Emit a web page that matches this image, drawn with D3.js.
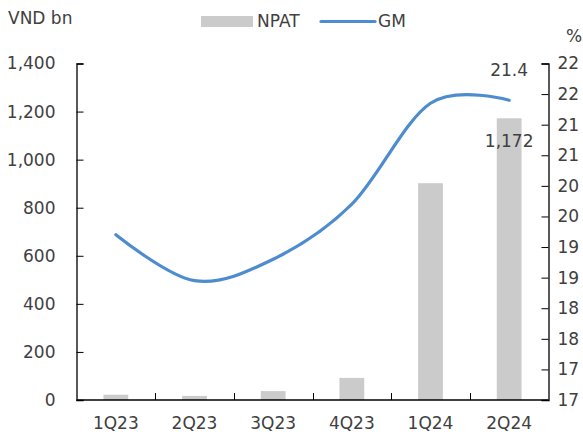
<!DOCTYPE html>
<html>
<head>
<meta charset="utf-8">
<script src="https://cdn.jsdelivr.net/npm/d3@7"></script>
<style>
  html, body { margin: 0; padding: 0; background: #fff; }
  svg { display: block; }
  text { font-family: "DejaVu Sans", Verdana, sans-serif; fill: #404040; }
</style>
</head>
<body>
<svg id="chart" width="583" height="435"></svg>
<script>
// Quarterly net profit (VND bn) and gross margin (%)
const quarters = ["1Q23", "2Q23", "3Q23", "4Q23", "1Q24", "2Q24"];
const npat = [22, 17, 37, 92, 902, 1172];
const gm = [19.2, 18.45, 18.8, 19.7, 21.35, 21.4];
const leftTicks = [0, 200, 400, 600, 800, 1000, 1200, 1400];
const rightTicks = [16.5, 17, 17.5, 18, 18.5, 19, 19.5, 20, 20.5, 21, 21.5, 22];

const svg = d3.select("#chart");
const plotLeft = 76.5, plotRight = 548.5, plotTop = 63.5, plotBottom = 400;
const fontSize = 17;

const x = d3.scaleBand().domain(quarters).range([plotLeft, plotRight]).padding(0);
const yL = d3.scaleLinear().domain([0, 1400]).range([plotBottom, plotTop]);
const yR = d3.scaleLinear().domain([16.5, 22]).range([plotBottom, plotTop]);
const barW = x.bandwidth() * 0.315;
const cx = q => x(q) + x.bandwidth() / 2;

// Bars
svg.append("g").selectAll("rect").data(quarters).join("rect")
  .attr("x", q => cx(q) - barW / 2)
  .attr("width", barW)
  .attr("y", (q, i) => yL(npat[i]))
  .attr("height", (q, i) => plotBottom - yL(npat[i]))
  .attr("fill", "#cbcbcb");

// Left axis
const axL = svg.append("g").attr("transform", `translate(${plotLeft},0)`)
  .call(d3.axisLeft(yL).tickValues(leftTicks).tickSize(-7).tickPadding(21)
    .tickFormat(d3.format(",")));
// Right axis
const axR = svg.append("g").attr("transform", `translate(${plotRight},0)`)
  .call(d3.axisRight(yR).tickValues(rightTicks).tickSize(-7).tickPadding(9)
    .tickFormat(d3.format(".0f")));
// Bottom axis (ticks between categories)
const axB = svg.append("g").attr("transform", `translate(0,${plotBottom})`)
  .call(d3.axisBottom(x).tickSize(0).tickPadding(17));
axB.selectAll(".sep").data(quarters.slice(1)).join("line")
  .attr("class", "sep")
  .attr("x1", q => Math.round(x(q)) + 0.5).attr("x2", q => Math.round(x(q)) + 0.5)
  .attr("y1", 0).attr("y2", -7)
  .attr("stroke", "#000");

[axL, axR, axB].forEach(a => {
  a.select(".domain").attr("stroke", "#000").attr("stroke-width", 1.3);
  a.selectAll(".tick line").attr("stroke", "#000");
  a.selectAll("text").attr("font-size", fontSize).attr("fill", "#404040")
    .style("font-family", '"DejaVu Sans", Verdana, sans-serif');
});
axR.selectAll("text").attr("text-anchor", "start");
axB.select(".domain").attr("d", `M${plotLeft},0H${plotRight}`);

// GM line (smoothed)
const line = d3.line()
  .x((d, i) => cx(quarters[i]))
  .y(d => yR(d))
  .curve(d3.curveCardinal.tension(0));
svg.append("path").datum(gm)
  .attr("d", line)
  .attr("fill", "none")
  .attr("stroke", "#4d8ccf")
  .attr("stroke-width", 3.2)
  .attr("stroke-linecap", "round");

// Data labels for the latest quarter
const last = quarters.length - 1;
svg.append("text")
  .attr("x", cx(quarters[last])).attr("y", yR(gm[last]) - 30)
  .attr("dy", "0.35em")
  .attr("text-anchor", "middle").attr("font-size", fontSize)
  .text(d3.format(".1f")(gm[last]));
svg.append("text")
  .attr("x", cx(quarters[last])).attr("y", yL(npat[last]) + 23)
  .attr("dy", "0.35em")
  .attr("text-anchor", "middle").attr("font-size", fontSize)
  .text(d3.format(",")(npat[last]));

// Unit labels
svg.append("text").attr("x", 8).attr("y", 18).attr("dy", "0.35em")
  .attr("font-size", fontSize).text("VND bn");
svg.append("text").attr("x", 566).attr("y", 36).attr("dy", "0.35em")
  .attr("font-size", fontSize).text("%");

// Legend
const lg = svg.append("g");
lg.append("rect").attr("x", 201).attr("y", 16).attr("width", 52).attr("height", 11)
  .attr("fill", "#cbcbcb");
lg.append("text").attr("x", 257).attr("y", 21).attr("dy", "0.35em")
  .attr("font-size", fontSize).text("NPAT");
lg.append("line").attr("x1", 321).attr("x2", 375).attr("y1", 21.5).attr("y2", 21.5)
  .attr("stroke", "#4d8ccf").attr("stroke-width", 3.2).attr("stroke-linecap", "round");
lg.append("text").attr("x", 378).attr("y", 21).attr("dy", "0.35em")
  .attr("font-size", fontSize).text("GM");
</script>
</body>
</html>
